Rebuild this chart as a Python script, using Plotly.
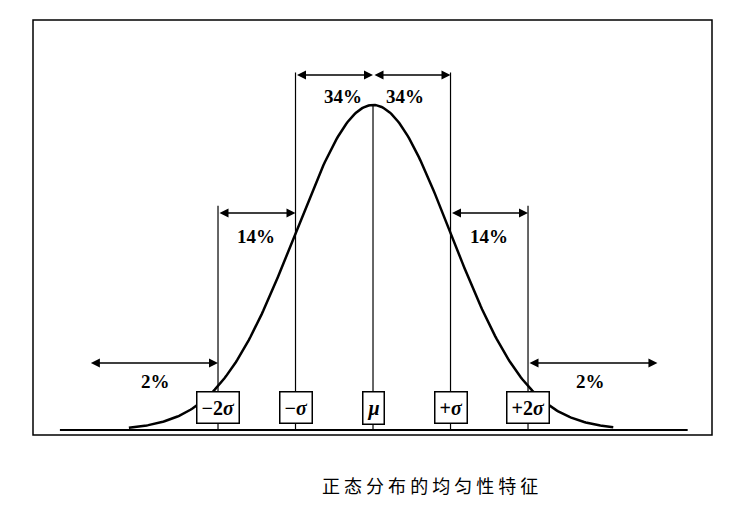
import numpy as np
import plotly.graph_objects as go

# positions in units of sigma
marks = [-2, -1, 0, 1, 2]
mark_labels = ["−2<i>σ</i>", "−<i>σ</i>", "<i>μ</i>", "+<i>σ</i>", "+2<i>σ</i>"]
pct_labels = ["34%", "34%", "14%", "14%", "2%", "2%"]
pct_x = [-0.39, 0.41, -1.51, 1.50, -2.81, 2.81]

x = np.linspace(-3.15, 3.1, 300)
y = np.exp(-x ** 2 / 2)

fig = go.Figure(go.Scatter(x=x, y=y, mode="lines", line=dict(color="black", width=2.5),
                           hoverinfo="skip"))

line = dict(color="black", width=1.2)
# baseline
fig.add_shape(type="line", x0=-4.04, x1=4.06, y0=0, y1=0, line=dict(color="black", width=2))
# verticals
tops = {0: 1.0, -1: 1.10, 1: 1.10, -2: 0.69, 2: 0.69}
for m in marks:
    fig.add_shape(type="line", x0=m, x1=m, y0=0, y1=tops[m], line=line)

W, H, OFF = 742, 505, 8
# frame
fig.add_shape(type="rect", xref="paper", yref="paper", x0=(33 - OFF) / W, x1=(712 - OFF) / W,
              y0=1 - (435 - OFF) / H, y1=1 - (20 - OFF) / H, line=dict(color="black", width=1.5))

def arrow(x0, x1, yy):
    fig.add_annotation(x=x1, y=yy, ax=x0, ay=yy, xref="x", yref="y", axref="x", ayref="y",
                       text="", showarrow=True, arrowhead=2, arrowside="end+start",
                       arrowsize=1.2, arrowwidth=1.5, arrowcolor="black")

arrow(-1, 0, 1.092)
arrow(0, 1, 1.092)
arrow(-2, -1, 0.668)
arrow(1, 2, 0.668)
arrow(-3.66, -2, 0.206)
arrow(2, 3.67, 0.206)

pct_y = [1.025, 1.025, 0.594, 0.594, 0.148, 0.148]
for t, px_, py in zip(pct_labels, pct_x, pct_y):
    fig.add_annotation(x=px_, y=py, text=f"<b>{t}</b>", showarrow=False,
                       font=dict(family="Liberation Serif", size=19, color="black"))

for m, t in zip(marks, mark_labels):
    fig.add_annotation(x=m, y=0.068, text=f"<b>{t}</b>", showarrow=False, bgcolor="white",
                       bordercolor="black", borderwidth=1.5, borderpad=4,
                       font=dict(family="Liberation Serif", size=20, color="black"))

fig.add_annotation(xref="paper", yref="paper", x=(430 - OFF) / W, y=1 - (500 - OFF) / H,
                   text="正 态 分 布 的 均 匀 性 特 征", showarrow=False,
                   font=dict(family="Noto Sans CJK SC", size=18, color="black"))

sx = OFF / 77.5
fig.update_xaxes(range=[-4.813 + sx, 4.761 + sx], visible=False)
fig.update_yaxes(range=[(430 - OFF - H) / 325, (430 - OFF) / 325], visible=False)
fig.update_layout(width=W, height=H, margin=dict(l=0, r=0, t=0, b=0),
                  plot_bgcolor="white", paper_bgcolor="white", showlegend=False)
fig.write_html("out.html")
